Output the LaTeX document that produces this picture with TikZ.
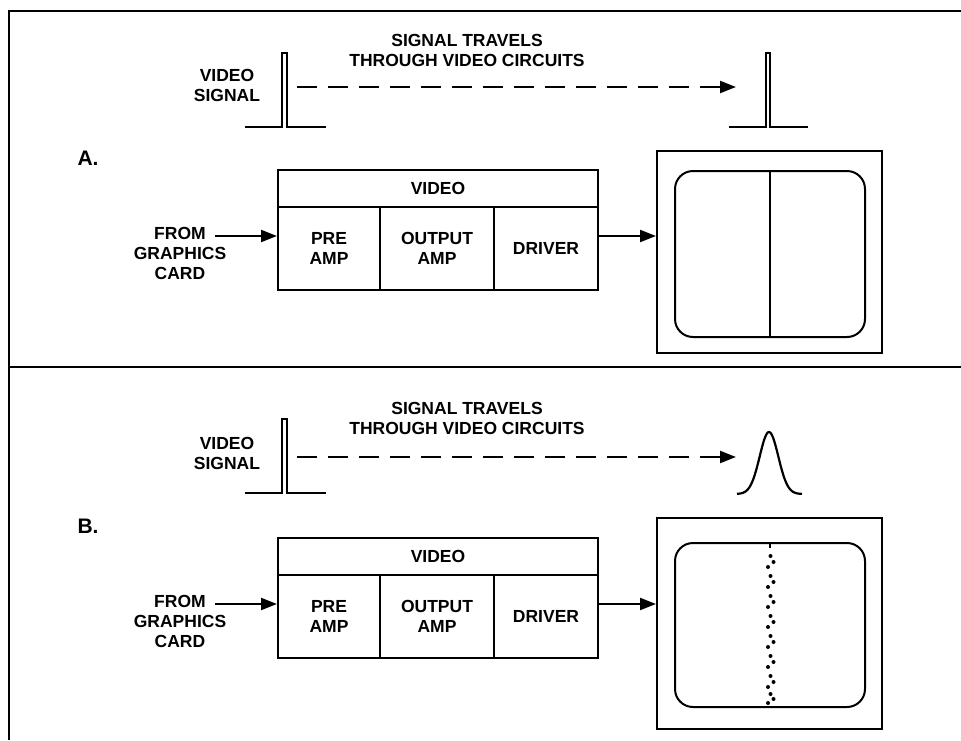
\documentclass[tikz,border=0pt]{standalone}
\usepackage{fontspec}
\setmainfont{Liberation Sans}
\usetikzlibrary{arrows.meta}

\begin{document}
\begin{tikzpicture}[x=1pt, y=-1pt,
    every node/.style={font=\fontsize{17.5}{20}\selectfont\bfseries, align=center, inner sep=0pt},
    cell/.style={draw, line width=2pt, minimum height=83pt},
    feed/.style={line width=2.2pt, -{Triangle[length=16pt,width=12pt]}},
    wire/.style={line width=2.2pt},
    frame/.style={line width=2.8pt}]
    \useasboundingbox (0,0) rectangle (961,740);

    % 外枠と仕切り
    \draw[frame] (9,740) -- (9,11) -- (961,11);
    \draw[frame] (9,367) -- (961,367);

    % パネルA
    \node[font=\fontsize{21}{24}\selectfont\bfseries] (tagA) at (88,158) {A.};
    \node (sigA) at (227,85) {VIDEO\\SIGNAL};
    \node (trvA) at (467,50) {SIGNAL TRAVELS\\THROUGH VIDEO CIRCUITS};
    \node (srcA) at (180,253) {FROM\\GRAPHICS\\CARD};
    \node[cell, minimum width=320pt, minimum height=37pt] (vidA) at (438,188.5) {VIDEO};
    \node[cell, minimum width=102pt] (preA) at (329,248.5) {PRE\\AMP};
    \node[cell, minimum width=114pt] (ampA) at (437,248.5) {OUTPUT\\AMP};
    \node[cell, minimum width=104pt] (drvA) at (546,248.5) {DRIVER};
    \node[cell, minimum width=225pt, minimum height=202pt] (scrA) at (769.5,252) {};
    \node[cell, rounded corners=18pt, minimum width=190pt, minimum height=166pt] (crtA) at (770,254) {};
    \coordinate (inA) at (215,236);
    \coordinate (txA) at (297,87);
    \coordinate (rxA) at (736,87);

    % 信号(A)
    \draw[wire] (245,127) -- (282,127) -- (282,53) -- (287,53) -- (287,127) -- (326,127);
    \draw[wire] (729,127) -- (766,127) -- (766,53) -- (770,53) -- (770,127) -- (808,127);
    \draw[feed, dash pattern=on 20pt off 11pt] (txA) -- (rxA);
    \draw[feed] (inA) -- (inA -| preA.west);
    \draw[feed] (inA -| drvA.east) -- (inA -| scrA.west);
    \draw[wire] (crtA.north) -- (crtA.south);

    % パネルB
    \node[font=\fontsize{21}{24}\selectfont\bfseries] (tagB) at (88,526) {B.};
    \node (sigB) at (227,453) {VIDEO\\SIGNAL};
    \node (trvB) at (467,418) {SIGNAL TRAVELS\\THROUGH VIDEO CIRCUITS};
    \node (srcB) at (180,621) {FROM\\GRAPHICS\\CARD};
    \node[cell, minimum width=320pt, minimum height=37pt] (vidB) at (438,556.5) {VIDEO};
    \node[cell, minimum width=102pt] (preB) at (329,616.5) {PRE\\AMP};
    \node[cell, minimum width=114pt] (ampB) at (437,616.5) {OUTPUT\\AMP};
    \node[cell, minimum width=104pt] (drvB) at (546,616.5) {DRIVER};
    \node[cell, minimum width=225pt, minimum height=211pt] (scrB) at (769.5,623.5) {};
    \node[cell, rounded corners=18pt, minimum width=190pt, minimum height=164pt] (crtB) at (770,625) {};
    \coordinate (inB) at (215,604);
    \coordinate (txB) at (297,457);
    \coordinate (rxB) at (736,457);

    % 信号(B)、にじんだパルス
    \draw[wire] (245,493) -- (282,493) -- (282,419) -- (287,419) -- (287,493) -- (326,493);
    \draw[wire] plot[domain=-32:33, samples=70] ({769+\x}, {494-62*exp(-\x*\x/173)});
    \draw[feed, dash pattern=on 20pt off 11pt] (txB) -- (rxB);
    \draw[feed] (inB) -- (inB -| preB.west);
    \draw[feed] (inB -| drvB.east) -- (inB -| scrB.west);

    % 画面上の点線
    \draw[wire] (crtB.north) -- ++(0,6);
    \fill (770.5,556) circle (2pt) (773.5,562) circle (2pt) (768,567) circle (2pt);
    \fill (770.5,576) circle (2pt) (773.5,582) circle (2pt) (768,587) circle (2pt);
    \fill (770.5,596) circle (2pt) (773.5,602) circle (2pt) (768,607) circle (2pt);
    \fill (770.5,616) circle (2pt) (773.5,622) circle (2pt) (768,627) circle (2pt);
    \fill (770.5,636) circle (2pt) (773.5,642) circle (2pt) (768,647) circle (2pt);
    \fill (770.5,656) circle (2pt) (773.5,662) circle (2pt) (768,667) circle (2pt);
    \fill (770.5,676) circle (2pt) (773.5,682) circle (2pt) (768,687) circle (2pt);
    \fill (770.5,694) circle (2pt) (773.5,699) circle (2pt) (768,703) circle (2pt);
\end{tikzpicture}
\end{document}
